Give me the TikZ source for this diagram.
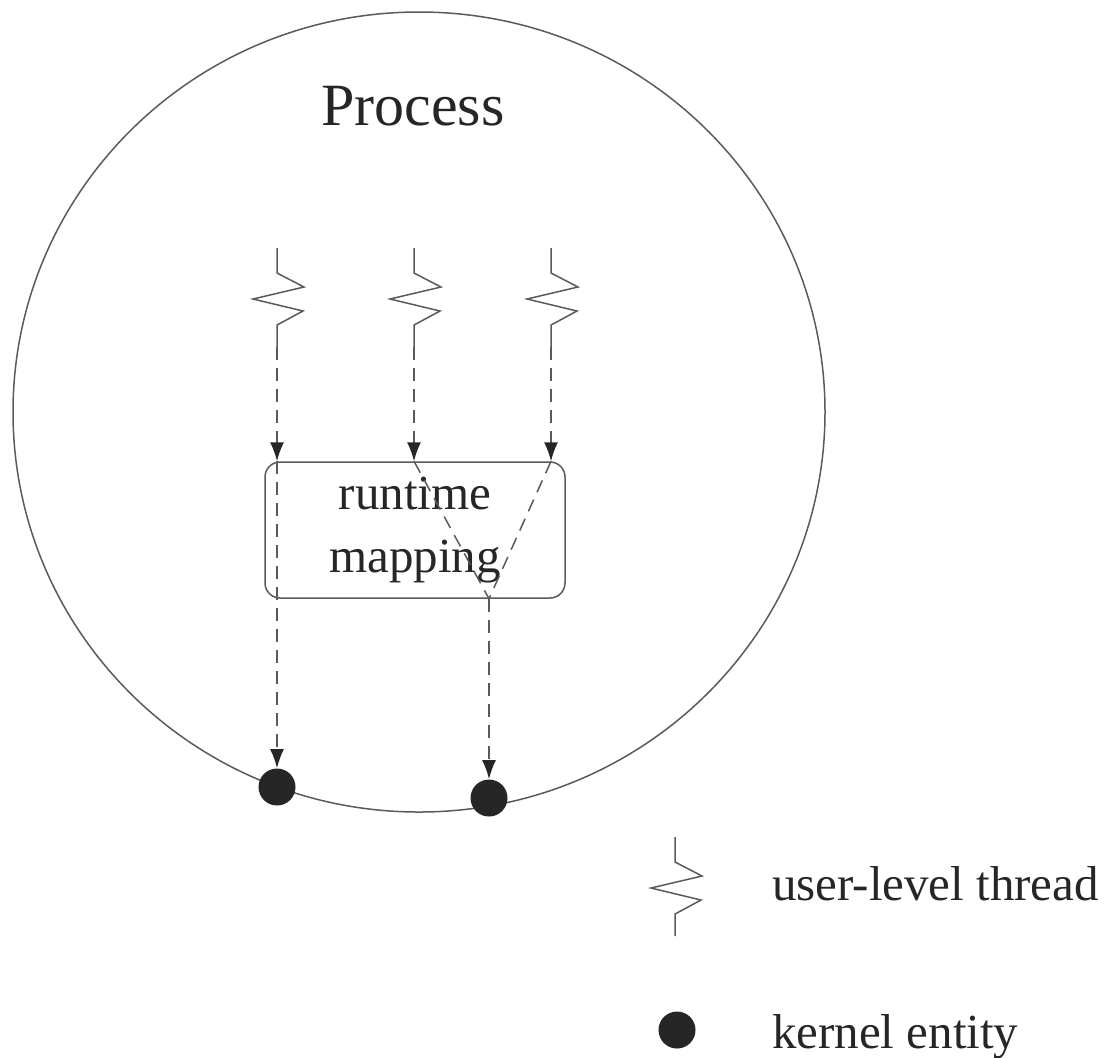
\documentclass[tikz,border=0pt]{standalone}
\usepackage{fontspec}
\setmainfont{Liberation Serif}
\usetikzlibrary{arrows.meta}
\definecolor{ink}{HTML}{262626}
\definecolor{lineclr}{HTML}{5A5A5A}
\tikzset{
  every picture/.style={x=0.5pt,y=-0.5pt},
  thin line/.style={draw=lineclr,line width=0.75pt},
  dashline/.style={thin line,dash pattern=on 6.5pt off 4pt},
  arrowed/.style={-{Latex[length=9.5pt,width=7pt,color=ink]},dashline},
  kdot/.style={circle,fill=ink,minimum size=18.5pt,inner sep=0pt},
  txt/.style={text=ink,font=\fontsize{24.5}{31.5}\selectfont},
  bigtxt/.style={text=ink,font=\fontsize{30}{36}\selectfont},
  mapbox/.style={draw=lineclr,line width=0.75pt,rounded corners=7.5pt,
    minimum width=150pt,minimum height=68pt,align=center,inner sep=0pt},
  ult/.pic={\draw[thin line] (0,0) -- (0,25) -- (27,39) -- (-24,51) -- (26,63) -- (0,77) -- (0,99);
            \coordinate (-end) at (0,99);}
}
\begin{document}
\begin{tikzpicture}
\useasboundingbox (0,0) rectangle (1106,1057);
% process circle
\draw[thin line] (419,412) ellipse [x radius=203pt, y radius=200pt];
\node[bigtxt,anchor=base] (proc) at (413,125) {Process};
% threads
\pic (t1) at (277,248) {ult};
\pic (t2) at (414,248) {ult};
\pic (t3) at (551,248) {ult};
% mapping box
\node[mapbox,txt] (rt) at (415,530) {runtime\\mapping};
% kernel entities
\node[kdot] (k1) at (277,787) {};
\node[kdot] (k2) at (489,798) {};
\coordinate (m) at (k2 |- rt.south);
% connectors
\draw[arrowed] (t1-end) -- (t1-end |- rt.north);
\draw[arrowed] (t2-end) -- (t2-end |- rt.north);
\draw[arrowed] (t3-end) -- (t3-end |- rt.north);
\draw[arrowed] (t1-end |- rt.north) -- (k1.north);
\draw[dashline] (t2-end |- rt.north) -- (m);
\draw[dashline] (t3-end |- rt.north) -- (m);
\draw[arrowed] (m) -- (k2.north);
% legend
\pic (lt) at (675,837) {ult};
\node[txt,anchor=base west] (ltxt) at (765,900) {user-level thread};
\node[kdot] (ld) at (677,1030) {};
\node[txt,anchor=base west] (ldtxt) at (765,1048) {kernel entity};
\end{tikzpicture}
\end{document}
